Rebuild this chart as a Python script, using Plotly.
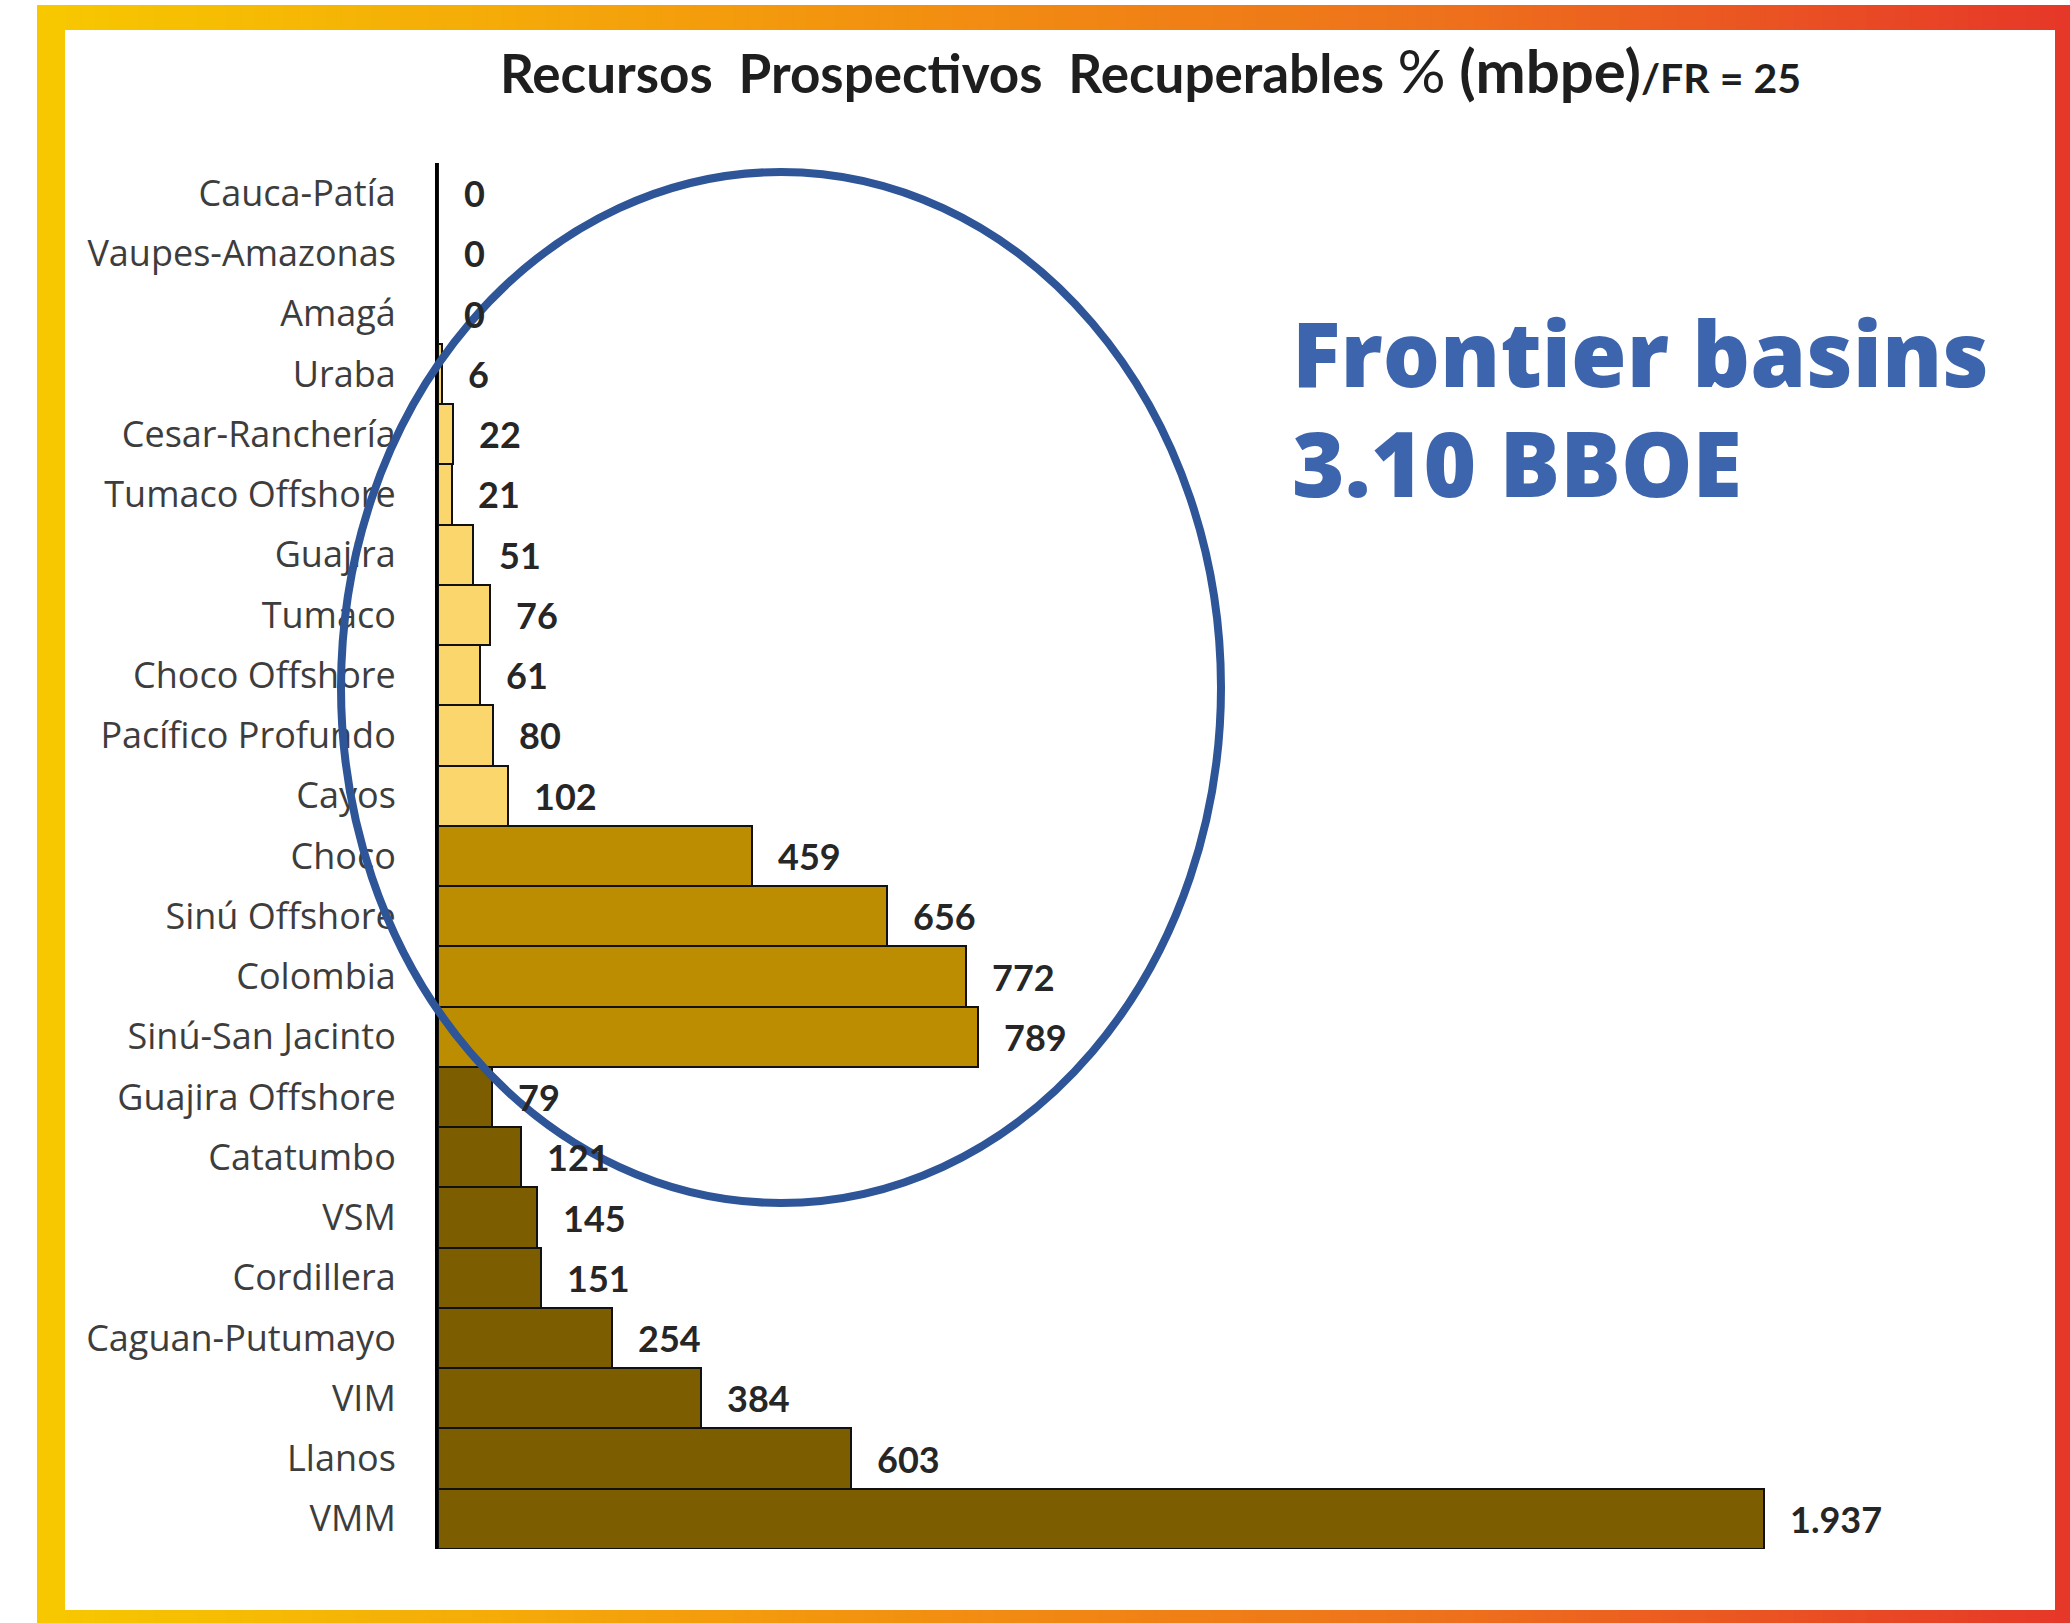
import plotly.graph_objects as go

# ---------------- data ----------------
categories = [
    "Cauca-Patía", "Vaupes-Amazonas", "Amagá", "Uraba", "Cesar-Ranchería",
    "Tumaco Offshore", "Guajira", "Tumaco", "Choco Offshore", "Pacífico Profundo",
    "Cayos", "Choco", "Sinú Offshore", "Colombia", "Sinú-San Jacinto",
    "Guajira Offshore", "Catatumbo", "VSM", "Cordillera", "Caguan-Putumayo",
    "VIM", "Llanos", "VMM",
]
values = [0, 0, 0, 6, 22, 21, 51, 76, 61, 80, 102, 459, 656, 772, 789,
          79, 121, 145, 151, 254, 384, 603, 1937]
groups = ["light"] * 11 + ["mid"] * 4 + ["dark"] * 8

title_main = "Recursos\u00a0\u00a0Prospectivos\u00a0\u00a0Recuperables"
title_pct = "%"
title_unit = "(mbpe)"
title_fr = "/FR = 25"
callout_1 = "Frontier basins"
callout_2 = "3.10 BBOE"

# ---------------- styling ----------------
W, H = 2070, 1623
group_colors = {"light": "#FAD66C", "mid": "#BC8D00", "dark": "#7C5D00"}
bar_colors = [group_colors[g] for g in groups]

def px(x):
    return x / W

def py(y):
    return 1 - y / H

shapes = []
# gradient frame (decorative): vertical slices
stops = [(0.0, (247, 200, 0)), (0.38, (243, 150, 14)), (0.7, (238, 112, 28)), (1.0, (230, 56, 40))]

def grad(t):
    for i in range(len(stops) - 1):
        t0, c0 = stops[i]
        t1, c1 = stops[i + 1]
        if t0 <= t <= t1:
            f = (t - t0) / (t1 - t0)
            return "rgb(%d,%d,%d)" % tuple(round(c0[k] + (c1[k] - c0[k]) * f) for k in range(3))
    return "rgb(230,56,40)"

fx0, fx1, fy0, fy1 = 37, 2070, 5, 1623
n = 140
for i in range(n):
    a = fx0 + (fx1 - fx0) * i / n
    b = fx0 + (fx1 - fx0) * (i + 1) / n + 1
    shapes.append(dict(type="rect", xref="paper", yref="paper", layer="below",
                       x0=px(a), x1=px(min(b, W)), y0=py(fy1), y1=py(fy0),
                       fillcolor=grad(i / (n - 1)), line=dict(width=0)))
# inner white panel
shapes.append(dict(type="rect", xref="paper", yref="paper", layer="below",
                   x0=px(65), x1=px(2055), y0=py(1610), y1=py(30),
                   fillcolor="white", line=dict(width=0)))
# ellipse highlight
shapes.append(dict(type="circle", xref="paper", yref="paper", layer="above",
                   x0=px(341), x1=px(1221), y0=py(1203), y1=py(172),
                   line=dict(color="#2E5597", width=8)))

fig = go.Figure()
fig.add_trace(go.Bar(
    y=categories, x=values, orientation="h",
    marker=dict(color=bar_colors, line=dict(color="#111111", width=2)),
    hoverinfo="skip", width=1.0,
))

annotations = []
for c, v in zip(categories, values):
    annotations.append(dict(
        x=v, y=c, xref="x", yref="y", text="<b>%s</b>" % f"{v:,}".replace(",", "."),
        showarrow=False, xanchor="left", yanchor="middle", xshift=24,
        font=dict(family="Lato, sans-serif", size=36, color="#262626"),
    ))

annotations.append(dict(
    x=px(1150), y=py(70), xref="paper", yref="paper", showarrow=False,
    xanchor="center", yanchor="middle",
    text=("<b>%s</b> <span style='font-size:60px'>%s</span> <b><span style='font-size:60px'>%s</span></b>"
          "<b><span style='font-size:41px'>%s</span></b>") % (title_main, title_pct, title_unit, title_fr),
    font=dict(family="Lato, sans-serif", size=53, color="#1e1e1e"),
))
annotations.append(dict(
    x=px(1290), y=py(352), xref="paper", yref="paper", showarrow=False,
    xanchor="left", yanchor="middle", text=callout_1,
    font=dict(family="Open Sans, sans-serif", size=90, color="#3D65AD", weight=800),
))
annotations.append(dict(
    x=px(1290), y=py(462), xref="paper", yref="paper", showarrow=False,
    xanchor="left", yanchor="middle", text=callout_2,
    font=dict(family="Open Sans, sans-serif", size=90, color="#3D65AD", weight=800),
))

scale = 0.6845  # px per unit
x_left, x_right = 438, 2038
fig.update_layout(
    width=W, height=H,
    margin=dict(l=0, r=0, t=0, b=0),
    paper_bgcolor="white", plot_bgcolor="rgba(0,0,0,0)",
    showlegend=False, bargap=0,
    shapes=shapes, annotations=annotations,
    xaxis=dict(domain=[px(x_left), px(x_right)], range=[0, (x_right - x_left) / scale],
               visible=False, fixedrange=True),
    yaxis=dict(domain=[py(1549), py(163)], type="category",
               categoryorder="array", categoryarray=categories,
               range=[len(categories) - 0.5, -0.5],
               showline=True, linecolor="#000000", linewidth=3,
               showgrid=False, zeroline=False, ticks="",
               ticklabelstandoff=32,
               tickfont=dict(family="Open Sans, sans-serif", size=36, color="#3d3d3d"),
               fixedrange=True),
)

fig.write_html("out.html", config={"displayModeBar": False},
               post_script="document.body.style.margin='0';document.body.style.overflow='hidden';")
